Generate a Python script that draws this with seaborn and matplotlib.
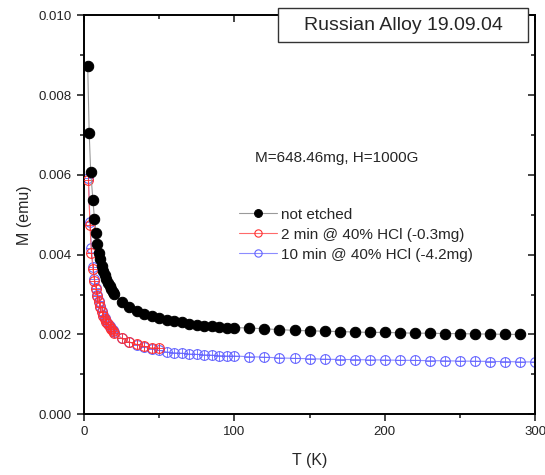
import matplotlib
matplotlib.use("Agg")
import matplotlib.pyplot as plt
import seaborn as sns
import numpy as np
from matplotlib.patches import Rectangle
from matplotlib.ticker import MultipleLocator, FormatStrFormatter

sns.set_style("ticks")
plt.rcParams['font.family'] = ['Liberation Sans', 'DejaVu Sans']

# --- data ---
T_black = [2.5, 3.5, 4.5, 6, 7, 8, 9, 10, 11, 12, 13, 14, 15, 16, 17, 18, 19, 20,
           25, 30, 35, 40, 45, 50, 55, 60, 65, 70, 75, 80, 85, 90, 95, 100,
           110, 120, 130, 140, 150, 160, 170, 180, 190, 200, 210, 220, 230, 240,
           250, 260, 270, 280, 290]
M_black = [0.00873, 0.00705, 0.00607, 0.00536, 0.00489, 0.00454, 0.00426, 0.00405,
           0.00388, 0.00372, 0.00360, 0.00348, 0.00338, 0.00329, 0.00321, 0.00314,
           0.00307, 0.00301,
           0.00282, 0.00269, 0.00259, 0.00252, 0.00246, 0.00241, 0.00236, 0.00233,
           0.00230, 0.00226, 0.00224, 0.00222, 0.00221, 0.00219, 0.00217, 0.00217,
           0.00216, 0.00214, 0.00212, 0.00210, 0.00209, 0.00208, 0.00207, 0.00206,
           0.00205, 0.00205, 0.00204, 0.00203, 0.00203, 0.00202, 0.00202, 0.00201,
           0.00201, 0.00200, 0.00200]

T_red = [3, 4, 5, 6, 7, 8, 9, 10, 11, 12, 13, 14, 15, 16, 17, 18, 19, 20,
         25, 30, 35, 40, 45, 50]
M_red = [0.00586, 0.00474, 0.00403, 0.00365, 0.00335, 0.00313, 0.00296, 0.00281,
         0.00268, 0.00256, 0.00247, 0.00239, 0.00232, 0.00225, 0.00219, 0.00213,
         0.00208, 0.00203, 0.00190, 0.00181, 0.00175, 0.00170, 0.00166, 0.00166]

T_blue = [3, 4, 5, 6, 7, 8, 9, 10, 11, 12, 13, 14, 15, 16, 17, 18, 19, 20,
          25, 30, 35, 40, 45, 50, 55, 60, 65, 70, 75, 80, 85, 90, 95, 100,
          110, 120, 130, 140, 150, 160, 170, 180, 190, 200, 210, 220, 230, 240,
          250, 260, 270, 280, 290, 300]
M_blue = [0.00592, 0.00482, 0.00416, 0.00370, 0.00340, 0.00317, 0.00299, 0.00284,
          0.00271, 0.00259, 0.00249, 0.00241, 0.00234, 0.00227, 0.00221, 0.00215,
          0.00210, 0.00205, 0.00191, 0.00181, 0.00174, 0.00168, 0.00164, 0.00160,
          0.00156, 0.00154, 0.00153, 0.00151, 0.00150, 0.00149, 0.00148, 0.00147,
          0.00146, 0.00146, 0.00144, 0.00143, 0.00141, 0.00140, 0.00139, 0.00138,
          0.00137, 0.00137, 0.00136, 0.00136, 0.00135, 0.00135, 0.00134, 0.00134,
          0.00133, 0.00133, 0.00132, 0.00132, 0.00131, 0.00131]

labels = ["not etched", "2 min @ 40% HCl (-0.3mg)", "10 min @ 40% HCl (-4.2mg)"]

fig = plt.figure(figsize=(5.45, 4.75), dpi=100)
ax = fig.add_axes([0.154, 0.128, 0.828, 0.840])

# blue (drawn first, under red)
sns.lineplot(x=T_blue, y=M_blue, ax=ax, color="#8c8cff", linewidth=0.8,
             marker="o", markersize=7, markerfacecolor="none",
             markeredgecolor="#6464ff", markeredgewidth=0.8, label=labels[2],
             zorder=2)
ax.plot(T_blue, M_blue, linestyle="none", marker="+", markersize=7,
        color="#6464ff", markeredgewidth=0.6, zorder=2)
# red
sns.lineplot(x=T_red, y=M_red, ax=ax, color="#ff6a6a", linewidth=0.8,
             marker="o", markersize=7, markerfacecolor="none",
             markeredgecolor="#ff3030", markeredgewidth=0.8, label=labels[1],
             zorder=3)
ax.plot(T_red, M_red, linestyle="none", marker="+", markersize=7,
        color="#ff3030", markeredgewidth=0.6, zorder=3)
# black
sns.lineplot(x=T_black, y=M_black, ax=ax, color="#9a9a9a", linewidth=0.8,
             marker="o", markersize=7.5, markerfacecolor="black",
             markeredgecolor="black", label=labels[0], zorder=4)

ax.set_xlim(0, 300)
ax.set_ylim(0, 0.010)
ax.xaxis.set_major_locator(MultipleLocator(100))
ax.xaxis.set_minor_locator(MultipleLocator(50))
ax.yaxis.set_major_locator(MultipleLocator(0.002))
ax.yaxis.set_minor_locator(MultipleLocator(0.001))
ax.yaxis.set_major_formatter(FormatStrFormatter("%.3f"))

for s in ax.spines.values():
    s.set_visible(True)
    s.set_linewidth(1.4)
    s.set_color("black")

ax.tick_params(which="both", direction="out", width=1.2, labelsize=9.5,
               top=False, right=False, labelcolor="#222222")
ax.tick_params(which="major", length=5)
ax.tick_params(which="minor", length=3)
# top/right inward ticks
ax2 = ax.secondary_xaxis("top")
ax2.xaxis.set_major_locator(MultipleLocator(100))
ax2.xaxis.set_minor_locator(MultipleLocator(50))
ax2.tick_params(which="both", direction="in", labeltop=False, width=1.2)
ax2.tick_params(which="major", length=5)
ax2.tick_params(which="minor", length=3)
ax2.spines["top"].set_visible(False)
ay2 = ax.secondary_yaxis("right")
ay2.yaxis.set_major_locator(MultipleLocator(0.002))
ay2.yaxis.set_minor_locator(MultipleLocator(0.001))
ay2.tick_params(which="both", direction="in", labelright=False, width=1.2)
ay2.tick_params(which="major", length=5)
ay2.tick_params(which="minor", length=3)
ay2.spines["right"].set_visible(False)

ax.set_xlabel("T (K)", fontsize=11.5, labelpad=11)
ax.set_ylabel("M (emu)", fontsize=11.5, labelpad=5)

# legend order: black, red, blue
h, l = ax.get_legend_handles_labels()
order = [l.index(x) for x in labels]
ax.legend([h[i] for i in order], [l[i] for i in order], frameon=False,
          loc="center left", bbox_to_anchor=(0.343, 0.45), fontsize=11,
          handlelength=2.5, handletextpad=0.3, labelspacing=0.4,
          borderaxespad=0, borderpad=0, markerscale=0.75)

ax.text(0.378, 0.642, "M=648.46mg, H=1000G", transform=ax.transAxes,
        fontsize=11, va="center", ha="left")

# title box
fig.patches.append(Rectangle((278 / 545, 1 - 42 / 475), 250 / 545, 34 / 475,
                             transform=fig.transFigure, facecolor="white",
                             edgecolor="#333333", linewidth=1.0, zorder=5))
fig.text(403 / 545, 1 - 25 / 475, "Russian Alloy 19.09.04", fontsize=14,
         ha="center", va="center", zorder=6)

fig.savefig("out.png", dpi=100)
